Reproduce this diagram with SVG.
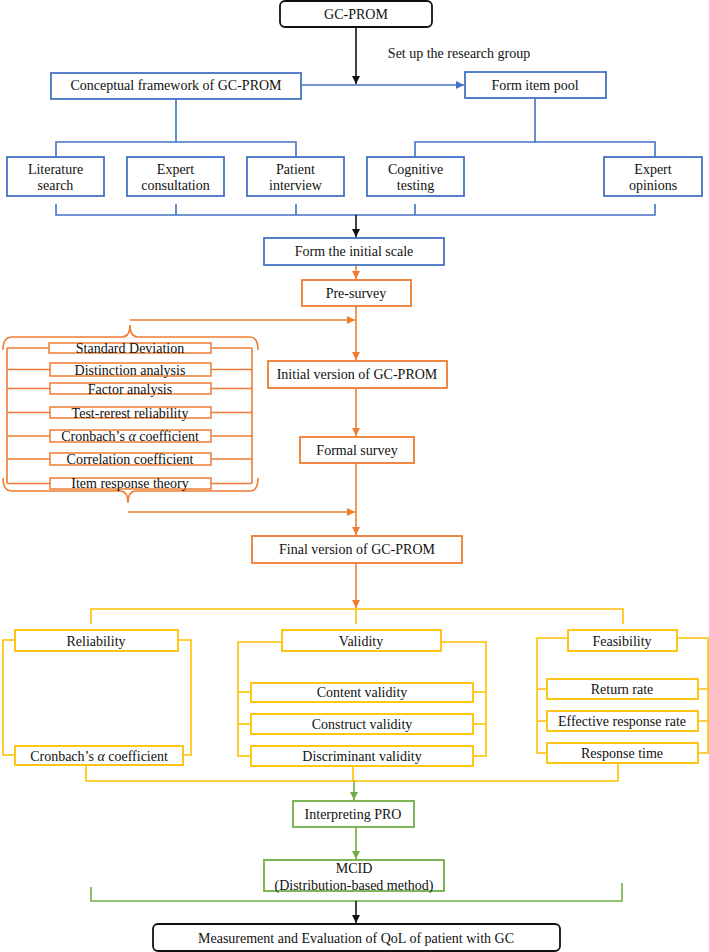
<svg xmlns="http://www.w3.org/2000/svg" width="709" height="952" viewBox="0 0 709 952">
<defs>
<style>
text{font-family:"Liberation Serif","Times New Roman",serif;font-size:14px;fill:#111;text-anchor:middle}
.bx{fill:#fff;stroke-width:1.8}
.blue{stroke:#4472C4}
.org{stroke:#ED7D31}
.yel{stroke:#FFC000}
.grn{stroke:#70AD47}
.blk{stroke:#111}
.ln{fill:none;stroke-width:1.6}
.sm{fill:#fff;stroke-width:1.5}
</style>
<marker id="aBk" markerUnits="userSpaceOnUse" markerWidth="9" markerHeight="8" refX="8" refY="4" orient="auto"><path d="M0,0 L8,4 L0,8 z" fill="#111"/></marker>
<marker id="aBl" markerUnits="userSpaceOnUse" markerWidth="9" markerHeight="8" refX="8" refY="4" orient="auto"><path d="M0,0 L8,4 L0,8 z" fill="#4472C4"/></marker>
<marker id="aOr" markerUnits="userSpaceOnUse" markerWidth="9" markerHeight="8" refX="8" refY="4" orient="auto"><path d="M0,0 L8,4 L0,8 z" fill="#ED7D31"/></marker>
<marker id="aGr" markerUnits="userSpaceOnUse" markerWidth="9" markerHeight="8" refX="8" refY="4" orient="auto"><path d="M0,0 L8,4 L0,8 z" fill="#70AD47"/></marker>
</defs>
<rect width="709" height="952" fill="#fff"/>

<g id="connectors">
<path class="ln blk" d="M356,27 V84" marker-end="url(#aBk)"/>
<path class="ln blue" d="M301,85 H464" marker-end="url(#aBl)"/>
<path class="ln blue" d="M176,99 V142 M56,157 V142 H296 V157"/>
<path class="ln blue" d="M535,98 V142 M415,157 V142 H655 V157"/>
<path class="ln blue" d="M56,204 V215 H655 V204 M176,204 V215 M296,204 V215 M415,204 V215"/>
<path class="ln blk" d="M356,215 V237" marker-end="url(#aBk)"/>
<path class="ln org" d="M356,265 V279" marker-end="url(#aOr)"/>
<path class="ln org" d="M356,306 V360" marker-end="url(#aOr)"/>
<path class="ln org" d="M130,320 H355" marker-end="url(#aOr)"/>
<path class="ln org" d="M356,388 V436" marker-end="url(#aOr)"/>
<path class="ln org" d="M356,463 V535" marker-end="url(#aOr)"/>
<path class="ln org" d="M128,512 H355" marker-end="url(#aOr)"/>
<path class="ln org" d="M356,563 V608" marker-end="url(#aOr)"/>
<path class="ln org" stroke-width="1.2" d="M3,350 Q3,337 12,337 H122 Q130,337 130,325 Q130,337 138,337 H250 Q258,337 258,350"/>
<path class="ln org" stroke-width="1.2" d="M3,478 Q3,491 12,491 H120 Q128,491 128,503 Q128,491 136,491 H250 Q258,491 258,478"/>
<path class="ln org" d="M7,348 V483.5 M252,348 V483.5 M7,348 H49 M211,348 H252 M7,369.5 H50 M211,369.5 H252 M7,388.5 H50 M211,388.5 H252 M7,412.5 H50 M211,412.5 H252 M7,436 H50 M211,436 H252 M7,459 H50 M211,459 H252 M7,483.5 H50 M211,483.5 H252"/>
<path class="ln yel" d="M91,624 V609 H623 V624 M356,609 V624"/>
<path class="ln yel" d="M15,640 H3 V755 H15 M178,640 H191 V755 H183"/>
<path class="ln yel" d="M282,642 H238 V756 H251 M238,692 H251 M238,724 H251 M441,642 H486 V756 H473 M473,692 H486 M473,724 H486"/>
<path class="ln yel" d="M568,638 H537 V753 H547 M537,689 H547 M537,721 H547 M677,638 H708 V753 H698 M698,689 H708 M698,721 H708"/>
<path class="ln yel" d="M86,765 V781 H618 V763 M353,766 V781"/>
<path class="ln grn" d="M354,781 V800" marker-end="url(#aGr)"/>
<path class="ln grn" d="M356,827 V859" marker-end="url(#aGr)"/>
<path class="ln grn" d="M91,887 V901 H622 V883"/>
<path class="ln blk" d="M356,901 V923" marker-end="url(#aBk)"/>
</g>

<text x="459" y="58">Set up the research group</text>

<g id="gcprom"><rect class="bx blk" x="280" y="1" width="152" height="26" rx="5"/><text x="356" y="19">GC-PROM</text></g>
<g id="conceptual"><rect class="bx blue" x="51" y="73" width="250" height="26"/><text x="176" y="90">Conceptual framework of GC-PROM</text></g>
<g id="itempool"><rect class="bx blue" x="465" y="72" width="141" height="26"/><text x="535" y="90">Form item pool</text></g>
<g id="literature"><rect class="bx blue" x="7" y="157" width="97" height="39"/><text x="55.5" y="174">Literature</text><text x="55.5" y="190">search</text></g>
<g id="expertcons"><rect class="bx blue" x="127" y="157" width="97" height="39"/><text x="175.5" y="174">Expert</text><text x="175.5" y="190">consultation</text></g>
<g id="patient"><rect class="bx blue" x="247" y="157" width="97" height="39"/><text x="295.5" y="174">Patient</text><text x="295.5" y="190">interview</text></g>
<g id="cognitive"><rect class="bx blue" x="367" y="157" width="97" height="39"/><text x="415.5" y="174">Cognitive</text><text x="415.5" y="190">testing</text></g>
<g id="expertop"><rect class="bx blue" x="604" y="157" width="98" height="39"/><text x="653" y="174">Expert</text><text x="653" y="190">opinions</text></g>
<g id="initialscale"><rect class="bx blue" x="264" y="238" width="180" height="27"/><text x="354" y="256">Form the initial scale</text></g>

<g id="presurvey"><rect class="bx org" x="302" y="280" width="109" height="26"/><text x="356" y="298">Pre-survey</text></g>
<g id="initialversion"><rect class="bx org" x="268" y="361" width="179" height="27"/><text x="357" y="379">Initial version of GC-PROM</text></g>
<g id="formal"><rect class="bx org" x="300" y="437" width="114" height="26"/><text x="357" y="455">Formal survey</text></g>
<g id="final"><rect class="bx org" x="252" y="536" width="210" height="27"/><text x="357" y="554">Final version of GC-PROM</text></g>

<g id="sd"><rect class="sm org" x="49" y="343" width="162" height="10"/><text x="130" y="353">Standard Deviation</text></g>
<g id="da"><rect class="sm org" x="50" y="363" width="161" height="13"/><text x="130" y="375">Distinction analysis</text></g>
<g id="fa"><rect class="sm org" x="50" y="383" width="161" height="11"/><text x="130" y="394">Factor analysis</text></g>
<g id="tr"><rect class="sm org" x="50" y="407" width="161" height="11"/><text x="130" y="418">Test-rerest reliability</text></g>
<g id="cr"><rect class="sm org" x="50" y="430" width="161" height="12"/><text x="130" y="441">Cronbach’s <tspan font-style="italic">α</tspan> coefficient</text></g>
<g id="cc"><rect class="sm org" x="50" y="453" width="161" height="12"/><text x="130" y="464">Correlation coefficient</text></g>
<g id="irt"><rect class="sm org" x="50" y="478" width="161" height="11"/><text x="130" y="488">Item response theory</text></g>

<g id="reliability"><rect class="bx yel" x="15" y="630" width="163" height="21"/><text x="96" y="646">Reliability</text></g>
<g id="rel-cronbach"><rect class="bx yel" x="15" y="746" width="168" height="19"/><text x="99" y="761">Cronbach’s <tspan font-style="italic">α</tspan> coefficient</text></g>
<g id="validity"><rect class="bx yel" x="282" y="630" width="159" height="21"/><text x="361" y="646">Validity</text></g>
<g id="content"><rect class="bx yel" x="251" y="683" width="222" height="19"/><text x="362" y="697">Content validity</text></g>
<g id="construct"><rect class="bx yel" x="251" y="714" width="222" height="20"/><text x="362" y="729">Construct validity</text></g>
<g id="discriminant"><rect class="bx yel" x="251" y="746" width="222" height="20"/><text x="362" y="761">Discriminant validity</text></g>
<g id="feasibility"><rect class="bx yel" x="568" y="630" width="109" height="21"/><text x="622" y="646">Feasibility</text></g>
<g id="return"><rect class="bx yel" x="547" y="679" width="151" height="20"/><text x="622" y="694">Return rate</text></g>
<g id="effective"><rect class="bx yel" x="547" y="711" width="151" height="20"/><text x="622" y="726">Effective response rate</text></g>
<g id="rtime"><rect class="bx yel" x="547" y="743" width="151" height="20"/><text x="622" y="758">Response time</text></g>

<g id="interpreting"><rect class="bx grn" x="293" y="801" width="121" height="26"/><text x="353" y="819">Interpreting PRO</text></g>
<g id="mcid"><rect class="bx grn" x="264" y="860" width="180" height="31"/><text x="354" y="873">MCID</text><text x="354" y="890">(Distribution-based method)</text></g>
<g id="measurement"><rect class="bx blk" x="153" y="924" width="407" height="27" rx="5"/><text x="356" y="943">Measurement and Evaluation of QoL of patient with GC</text></g>
</svg>
